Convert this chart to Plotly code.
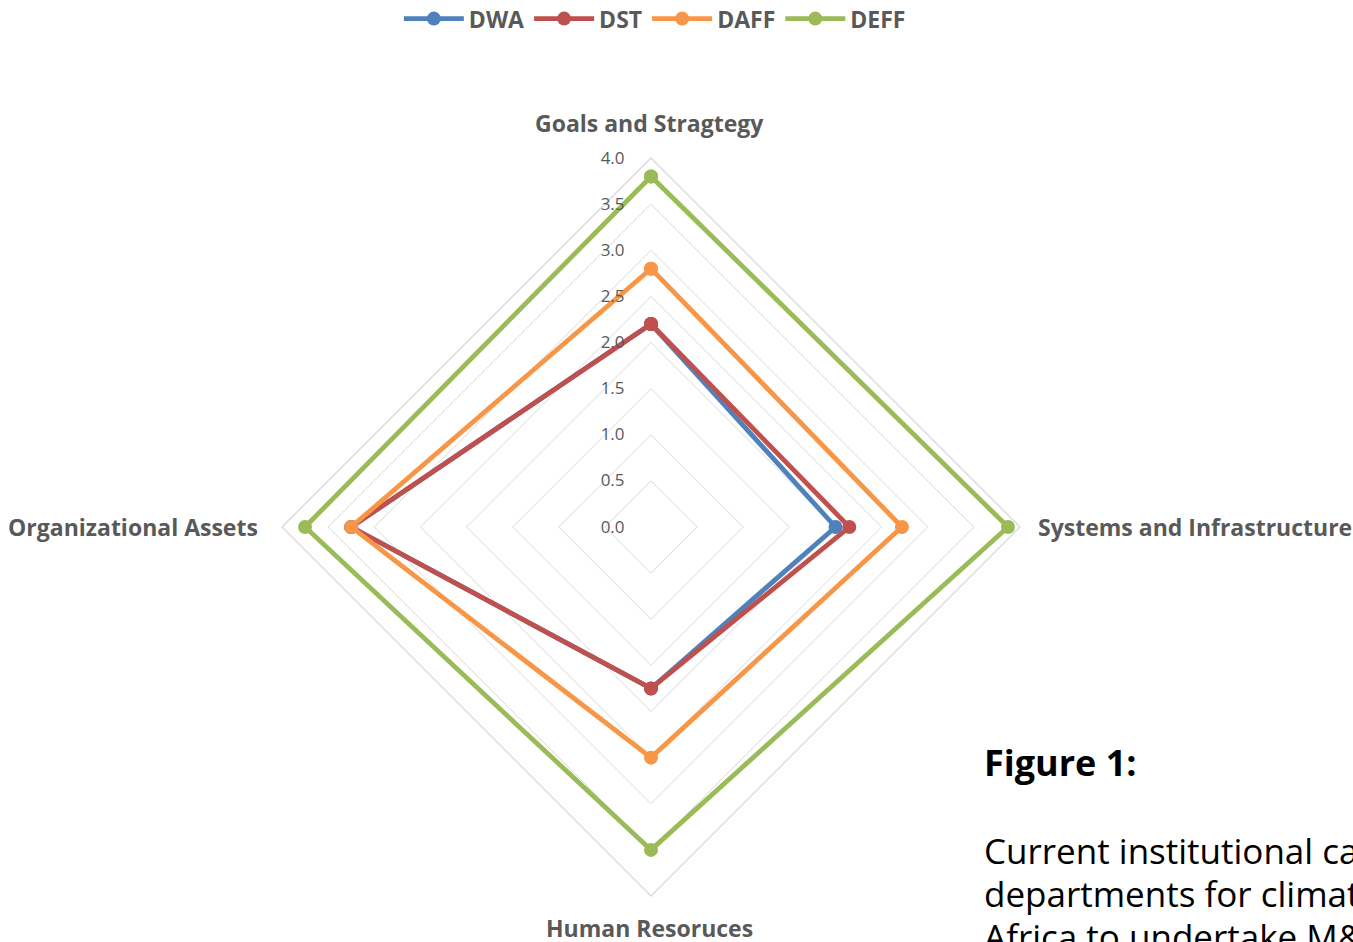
import plotly.graph_objects as go

# Capacity dimensions, clockwise from the top
categories = ["Goals and Stragtegy", "Systems and Infrastructure",
              "Human Resoruces", "Organizational Assets"]

# Scores per department (0-4 scale)
dwa = [2.2, 2.0, 1.75, 3.25]
dst = [2.2, 2.15, 1.75, 3.25]
daff = [2.8, 2.72, 2.5, 3.25]
deff = [3.8, 3.87, 3.5, 3.75]

series_names = ["DWA", "DST", "DAFF", "DEFF"]
series_values = [dwa, dst, daff, deff]
series_colors = ["#4F81BD", "#C0504D", "#F79646", "#9BBB59"]

radial_ticks = [0.0, 0.5, 1.0, 1.5, 2.0, 2.5, 3.0, 3.5, 4.0]

W, H = 1353, 942
FONT = "Open Sans, Noto Sans, sans-serif"
GREY_TEXT = "#595959"
GRID = "#D9D9D9"


def px(x, y):
    return x / W, 1 - y / H


fig = go.Figure()
for name, vals, col in zip(series_names, series_values, series_colors):
    fig.add_trace(go.Scatterpolar(
        r=vals + vals[:1],
        theta=categories + categories[:1],
        mode="lines+markers",
        name=name,
        line=dict(color=col, width=4.8),
        marker=dict(color=col, size=14),
    ))

cx, cy, rad = 651, 527, 369
x0, y1 = px(cx - rad, cy - rad)
x1, y0 = px(cx + rad, cy + rad)

fig.update_layout(
    width=W, height=H, autosize=False,
    margin=dict(l=0, r=0, t=0, b=0, autoexpand=False),
    paper_bgcolor="white", plot_bgcolor="white",
    font=dict(family=FONT, color=GREY_TEXT),
    showlegend=True,
    legend=dict(orientation="h", x=0.484, xanchor="center", y=1.003, yanchor="top",
                font=dict(size=23, color=GREY_TEXT, weight="bold"),
                itemwidth=60, tracegroupgap=0),
    polar=dict(
        domain=dict(x=[x0, x1], y=[y0, y1]),
        bgcolor="white",
        gridshape="linear",
        radialaxis=dict(
            range=[0, 4], tickvals=radial_ticks,
            ticktext=[f"{v:.1f}" for v in radial_ticks],
            angle=90, tickangle=90, side="counterclockwise",
            showline=False, ticks="outside", ticklen=20,
            tickcolor="rgba(0,0,0,0)", showgrid=True,
            gridcolor=GRID, gridwidth=1.4,
            tickfont=dict(size=17, color=GREY_TEXT),
        ),
        angularaxis=dict(
            rotation=90, direction="clockwise",
            showgrid=False, showline=True, linecolor=GRID, linewidth=1.4,
            ticks="", showticklabels=False,
        ),
    ),
)

# Category labels around the chart
label_pos = [(649, 123, "center"), (1036, 527, "left"),
             (649, 928, "center"), (260, 527, "right")]
for cat, (lx, ly, anchor) in zip(categories, label_pos):
    ax_, ay_ = px(lx, ly)
    fig.add_annotation(x=ax_, y=ay_, xref="paper", yref="paper",
                       text=f"<b>{cat}</b>", showarrow=False,
                       xanchor=anchor, yanchor="middle",
                       font=dict(size=23, color=GREY_TEXT, family=FONT))

# Figure caption
fx, fy = px(982, 762)
fig.add_annotation(x=fx, y=fy, xref="paper", yref="paper",
                   text="<b>Figure 1:</b>", showarrow=False,
                   xanchor="left", yanchor="middle",
                   font=dict(size=36, color="black", family=FONT))
caption_lines = ["Current institutional capacity of the",
                 "departments for climate change in South",
                 "Africa to undertake M&E"]
for i, line in enumerate(caption_lines):
    lx, ly = px(982, 850 + 43 * i)
    fig.add_annotation(x=lx, y=ly, xref="paper", yref="paper",
                       text=line, showarrow=False,
                       xanchor="left", yanchor="middle",
                       font=dict(size=35, color="black", family=FONT))

fig.write_html("out.html")
